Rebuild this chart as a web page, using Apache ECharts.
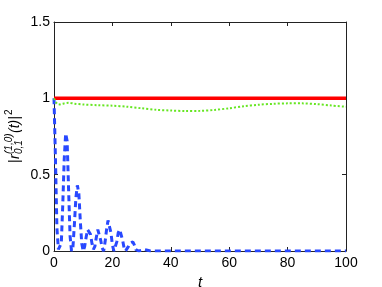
<!DOCTYPE html>
<html><head><meta charset="utf-8">
<script src="https://cdn.jsdelivr.net/npm/echarts@6/dist/echarts.min.js"></script>
<style>html,body{margin:0;padding:0;background:#fff}#c{width:382px;height:287px}</style>
</head><body><div id="c"></div>
<script>
const xTicks = [0, 20, 40, 60, 80, 100];
const yTicks = [0, 0.5, 1, 1.5];
const redT = [0, 100];
const redV = [1, 1];
const greenT = [0,1,2,3,5,7,10,15,20,25,30,35,40,45,50,55,60,65,70,75,80,85,90,95,100];
const greenV = [1.0,0.965,0.96,0.965,0.971,0.965,0.96,0.955,0.952,0.945,0.935,0.925,0.92,0.917,0.918,0.924,0.935,0.948,0.958,0.964,0.967,0.967,0.962,0.953,0.945];
const blueT = [0,0.5,1,1.5,2,2.5,3,3.5,4,4.5,5,5.5,6,6.5,7,7.5,8,8.5,9,9.5,10,10.5,11,11.5,12,12.5,13,13.5,14,14.5,15,15.5,16,16.5,17,17.5,18,18.5,19,19.5,20,20.5,21,21.5,22,22.5,23,23.5,24,24.5,25,25.5,26,26.5,27,27.5,28,28.5,29,30,31,32,33,40,60,80,100];
const blueV = [1.0,0.6,0.15,0.01,0.0,0.05,0.3,0.6,0.77,0.72,0.4,0.1,0.0,0.03,0.18,0.35,0.43,0.38,0.2,0.05,0.0,0.03,0.09,0.14,0.15,0.11,0.05,0.01,0.03,0.09,0.14,0.13,0.07,0.02,0.0,0.06,0.14,0.2,0.19,0.12,0.04,0.0,0.01,0.06,0.12,0.14,0.13,0.07,0.02,0.0,0.01,0.03,0.05,0.06,0.06,0.04,0.01,0.0,0.0,0.005,0.01,0.005,0,0,0,0,0];

const zip = (a, b) => a.map((v, i) => [v, b[i]]);
const chart = echarts.init(document.getElementById('c'), null, {renderer: 'canvas'});
const axLine = {show: true, onZero: false, lineStyle: {color: '#222', width: 1}};
const tick = {inside: true, length: 4, lineStyle: {color: '#222'}};
const lblFont = {color: '#000', fontSize: 14, fontFamily: 'Liberation Sans, Arial, sans-serif'};
const txt = (s, x, y, size, italic) => ({type: 'text', x: x, y: y, style: {text: s, fontSize: size, fontStyle: italic ? 'italic' : 'normal', fontFamily: 'Liberation Sans, Arial, sans-serif', fill: '#000', verticalAlign: 'middle', align: 'left'}});
chart.setOption({
  animation: false,
  backgroundColor: '#fff',
  grid: {left: 54, right: 36, top: 22, bottom: 36, outerBoundsMode: 'none', containLabel: false},
  xAxis: [
    {type: 'value', min: 0, max: 100, interval: 20, axisLine: axLine, axisTick: tick, axisLabel: Object.assign({margin: 5, formatter: v => xTicks.includes(v) ? String(v) : ''}, lblFont), splitLine: {show: false},
      name: 't', nameLocation: 'middle', nameGap: 23, nameTextStyle: {fontSize: 15, fontStyle: 'italic', color: '#000', fontFamily: 'Liberation Sans, Arial, sans-serif'}},
    {type: 'value', position: 'top', min: 0, max: 100, interval: 20, axisLine: axLine, axisTick: tick, axisLabel: {show: false}, splitLine: {show: false}}
  ],
  yAxis: [
    {type: 'value', min: 0, max: 1.5, interval: 0.5, axisLine: axLine, axisTick: tick, axisLabel: Object.assign({margin: 4, formatter: v => yTicks.includes(v) ? String(v) : ''}, lblFont), splitLine: {show: false}},
    {type: 'value', position: 'right', min: 0, max: 1.5, interval: 0.5, axisLine: axLine, axisTick: tick, axisLabel: {show: false}, splitLine: {show: false}}
  ],
  series: [
    {type: 'line', data: zip(blueT, blueV), showSymbol: false, lineStyle: {color: '#2848ff', width: 3, type: [6, 4]}, z: 3},
    {type: 'line', data: zip(redT, redV), showSymbol: false, lineStyle: {color: '#ff0000', width: 3.5}, z: 4},
    {type: 'line', data: zip(greenT, greenV), showSymbol: false, smooth: 0.3, lineStyle: {color: '#66e622', width: 2, type: [2, 2]}, z: 5}
  ],
  graphic: [{
    type: 'group', x: 15, y: 163, rotation: Math.PI / 2,
    children: [
      txt('|', 0, 0, 14, false),
      txt('r', 4, 0, 14, true),
      txt('(1,0)', 9, -6, 10, true),
      txt('0,1', 9, 4, 10, true),
      txt('(t)|', 30, 0, 14, true),
      txt('2', 48, -6, 10, false)
    ]
  }]
});
</script></body></html>
